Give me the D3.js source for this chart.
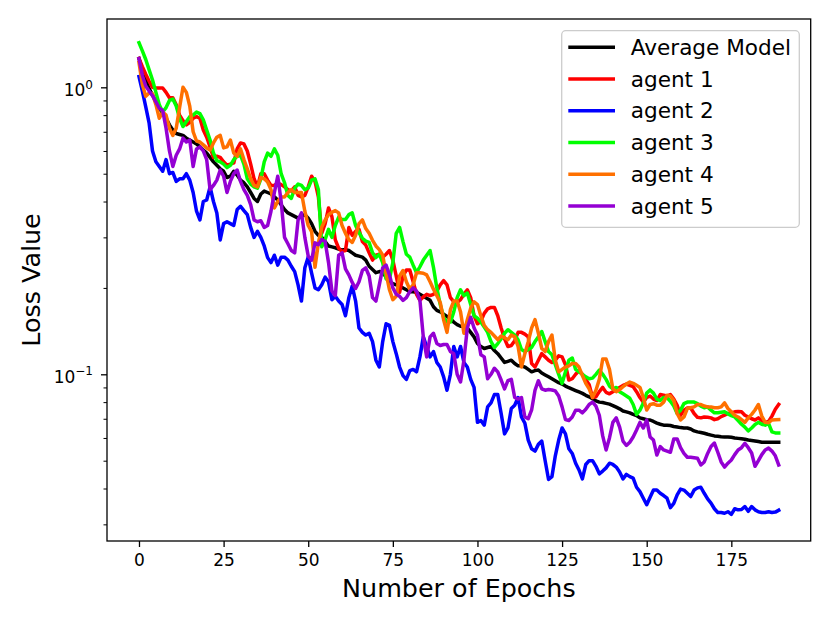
<!DOCTYPE html>
<html>
<head>
<meta charset="utf-8">
<script src="https://cdnjs.cloudflare.com/ajax/libs/d3/7.8.5/d3.min.js"></script>
<style>
  body { margin: 0; background: #ffffff; }
  svg text { font-family: 'DejaVu Sans', sans-serif; fill: #000; }
</style>
</head>
<body>
<div class="chart"></div>
<script>
var epochs = d3.range(0, 190);

var avgModel = [
  1.26, 1.15, 1.06, 0.99, 0.94, 0.89, 0.85, 0.81, 0.78, 0.74,
  0.71, 0.69, 0.685, 0.68, 0.665, 0.655, 0.645, 0.635, 0.62, 0.605,
  0.59, 0.57, 0.55, 0.535, 0.52, 0.51, 0.485, 0.49, 0.51, 0.495,
  0.475, 0.465, 0.45, 0.43, 0.41, 0.40, 0.425, 0.435, 0.43, 0.425,
  0.415, 0.405, 0.39, 0.375, 0.365, 0.36, 0.355, 0.35, 0.355, 0.36,
  0.35, 0.335, 0.315, 0.305, 0.30, 0.29, 0.28, 0.278, 0.276, 0.273,
  0.271, 0.272, 0.27, 0.265, 0.26, 0.258, 0.256, 0.25, 0.238, 0.232,
  0.226, 0.228, 0.227, 0.218, 0.21, 0.207, 0.205, 0.202, 0.20, 0.197,
  0.194, 0.194, 0.193, 0.19, 0.187, 0.184, 0.181, 0.172, 0.167, 0.165,
  0.162, 0.159, 0.156, 0.152, 0.149, 0.147, 0.147, 0.145, 0.14, 0.135,
  0.128, 0.125, 0.123, 0.124, 0.125, 0.121, 0.118, 0.114, 0.11, 0.111,
  0.112, 0.109, 0.107, 0.107, 0.106, 0.104, 0.102, 0.103, 0.1035, 0.101,
  0.0995, 0.098, 0.0965, 0.095, 0.0935, 0.0925, 0.091, 0.0898, 0.0888, 0.0878,
  0.0868, 0.0858, 0.0845, 0.0835, 0.0822, 0.0808, 0.08, 0.0797, 0.0792, 0.0787,
  0.0778, 0.0768, 0.0758, 0.0745, 0.074, 0.0734, 0.0725, 0.0718, 0.0705, 0.07,
  0.0695, 0.0693, 0.0685, 0.0676, 0.067, 0.0665, 0.0665, 0.0663, 0.0658, 0.0655,
  0.0652, 0.065, 0.065, 0.0645, 0.0635, 0.063, 0.0627, 0.0623, 0.0618, 0.0614,
  0.061, 0.0608, 0.0606, 0.0605, 0.0605, 0.0603, 0.06, 0.0598, 0.0596, 0.0594,
  0.059, 0.0588, 0.0586, 0.0583, 0.058, 0.058, 0.058, 0.058, 0.058, 0.058
];

var agent1 = [
  1.26, 1.18, 1.11, 1.05, 1.0, 0.995, 0.995, 0.995, 0.96, 0.92,
  0.92, 0.87, 0.80, 0.765, 0.74, 0.755, 0.78, 0.79, 0.78, 0.71,
  0.67, 0.62, 0.57, 0.575, 0.57, 0.55, 0.535, 0.54, 0.545, 0.61,
  0.64, 0.635, 0.60, 0.54, 0.48, 0.45, 0.50, 0.50, 0.475, 0.455,
  0.455, 0.464, 0.458, 0.45, 0.44, 0.435, 0.45, 0.42, 0.415, 0.42,
  0.45, 0.49, 0.47, 0.415, 0.31, 0.335, 0.38, 0.354, 0.294, 0.275,
  0.268, 0.27, 0.325, 0.305, 0.315, 0.32, 0.29, 0.282, 0.265, 0.25,
  0.26, 0.262, 0.256, 0.262, 0.27, 0.25, 0.22, 0.193, 0.22, 0.231,
  0.231, 0.21, 0.19, 0.181, 0.186, 0.19, 0.188, 0.19, 0.195, 0.205,
  0.212, 0.205, 0.185, 0.179, 0.178, 0.182, 0.19, 0.197, 0.185, 0.16,
  0.15, 0.153, 0.163, 0.169, 0.171, 0.171, 0.16, 0.145, 0.133, 0.125,
  0.126, 0.131, 0.14, 0.14, 0.138, 0.135, 0.109, 0.106, 0.112, 0.118,
  0.115, 0.112, 0.11, 0.112, 0.116, 0.115, 0.108, 0.0955, 0.0965, 0.1,
  0.103, 0.1, 0.096, 0.092, 0.083, 0.0835, 0.087, 0.09, 0.0865, 0.0855,
  0.087, 0.088, 0.09, 0.0915, 0.0925, 0.0915, 0.0905, 0.087, 0.083, 0.08,
  0.083, 0.084, 0.082, 0.081, 0.085, 0.0845, 0.084, 0.085, 0.082, 0.078,
  0.072, 0.075, 0.0763, 0.0763, 0.073, 0.0708, 0.0705, 0.071, 0.0708, 0.0705,
  0.0695, 0.07, 0.0712, 0.072, 0.073, 0.0734, 0.074, 0.0742, 0.074, 0.072,
  0.071, 0.07, 0.0693, 0.0705, 0.069, 0.068, 0.0685, 0.0715, 0.0755, 0.0785
];

var agent2 = [
  1.09, 0.97, 0.855, 0.75, 0.6, 0.55, 0.53, 0.51, 0.56, 0.50,
  0.505, 0.47, 0.48, 0.48, 0.50, 0.475, 0.43, 0.37, 0.345, 0.40,
  0.405, 0.45, 0.40, 0.365, 0.294, 0.335, 0.34, 0.335, 0.33, 0.375,
  0.385, 0.372, 0.36, 0.325, 0.30, 0.315, 0.30, 0.28, 0.255, 0.245,
  0.26, 0.24, 0.256, 0.256, 0.25, 0.238, 0.228, 0.205, 0.18, 0.235,
  0.256, 0.225, 0.2, 0.197, 0.205, 0.218, 0.21, 0.182, 0.187, 0.18,
  0.175, 0.16, 0.185, 0.203, 0.18, 0.145, 0.14, 0.137, 0.139, 0.13,
  0.112, 0.106, 0.13, 0.15, 0.148, 0.13, 0.118, 0.106, 0.099, 0.096,
  0.103, 0.104, 0.102, 0.115, 0.135, 0.125, 0.115, 0.12, 0.11, 0.106,
  0.098, 0.088, 0.1, 0.125, 0.115, 0.125, 0.11, 0.106, 0.096, 0.09,
  0.068, 0.069, 0.0665, 0.077, 0.0795, 0.085, 0.085, 0.073, 0.062, 0.065,
  0.076, 0.078, 0.083, 0.071, 0.0676, 0.059, 0.055, 0.054, 0.057, 0.0585,
  0.05, 0.043, 0.044, 0.052, 0.059, 0.065, 0.062, 0.055, 0.053, 0.049,
  0.0464, 0.0432, 0.0485, 0.05, 0.05, 0.0478, 0.045, 0.046, 0.0472, 0.049,
  0.0485, 0.0475, 0.0457, 0.0432, 0.0448, 0.044, 0.0435, 0.0404, 0.039, 0.037,
  0.0351, 0.0373, 0.0395, 0.0395, 0.0385, 0.0378, 0.037, 0.0343, 0.0355, 0.038,
  0.0398, 0.0395, 0.0385, 0.0375, 0.0395, 0.0402, 0.0404, 0.0385, 0.0368, 0.0356,
  0.034, 0.033, 0.033, 0.0328, 0.0332, 0.0325, 0.034, 0.0337, 0.0338, 0.0346,
  0.0333, 0.0346, 0.0337, 0.0332, 0.033, 0.033, 0.0332, 0.033, 0.0331, 0.0336
];

var agent3 = [
  1.43, 1.34, 1.25, 1.15, 1.06, 0.96, 0.87, 0.82, 0.85, 0.9,
  0.91, 0.86, 0.78, 0.73, 0.76, 0.79, 0.80, 0.82, 0.81, 0.77,
  0.71, 0.655, 0.59, 0.555, 0.55, 0.54, 0.525, 0.535, 0.56, 0.575,
  0.58, 0.54, 0.48, 0.46, 0.45, 0.445, 0.48, 0.55, 0.59, 0.575,
  0.61, 0.58, 0.50, 0.465, 0.42, 0.41, 0.445, 0.46, 0.455, 0.44,
  0.446, 0.475, 0.48, 0.44, 0.278, 0.295, 0.32, 0.30, 0.33, 0.353,
  0.346, 0.346, 0.36, 0.365, 0.33, 0.312, 0.298, 0.291, 0.288, 0.265,
  0.255, 0.262, 0.245, 0.215, 0.215, 0.245, 0.31, 0.325, 0.29, 0.262,
  0.256, 0.24, 0.226, 0.237, 0.25, 0.26, 0.27, 0.236, 0.2, 0.175,
  0.158, 0.152, 0.152, 0.165, 0.185, 0.197, 0.188, 0.192, 0.175, 0.16,
  0.157, 0.152, 0.146, 0.14, 0.13, 0.124, 0.128, 0.133, 0.139, 0.143,
  0.14, 0.137, 0.132, 0.122, 0.12, 0.122, 0.124, 0.13, 0.135, 0.141,
  0.13, 0.12, 0.117, 0.108, 0.1, 0.093, 0.102, 0.112, 0.114, 0.104,
  0.102, 0.1, 0.098, 0.0965, 0.097, 0.1, 0.1035, 0.1, 0.096, 0.091,
  0.089, 0.09, 0.087, 0.0855, 0.084, 0.0825, 0.0785, 0.0725, 0.075, 0.0795,
  0.086, 0.0882, 0.086, 0.082, 0.081, 0.083, 0.083, 0.0805, 0.0775, 0.073,
  0.075, 0.079, 0.08, 0.08, 0.08, 0.079, 0.0775, 0.0765, 0.077, 0.075,
  0.0734, 0.0734, 0.0737, 0.074, 0.0728, 0.0718, 0.071, 0.069, 0.067, 0.0655,
  0.0635, 0.065, 0.0668, 0.068, 0.067, 0.0665, 0.0675, 0.063, 0.0625, 0.0625
];

var agent4 = [
  1.22, 1.02, 0.93, 0.955, 0.95, 0.87, 0.78, 0.82, 0.80, 0.72,
  0.68, 0.72, 0.85, 1.0, 0.96, 0.86, 0.7, 0.65, 0.645, 0.63,
  0.615, 0.605, 0.64, 0.67, 0.68, 0.615, 0.62, 0.655, 0.59, 0.575,
  0.61, 0.56, 0.52, 0.48, 0.455, 0.45, 0.485, 0.48, 0.468, 0.44,
  0.38, 0.40, 0.415, 0.415, 0.43, 0.44, 0.43, 0.43, 0.43, 0.37,
  0.33, 0.314, 0.236, 0.287, 0.326, 0.345, 0.36, 0.367, 0.372, 0.365,
  0.33, 0.31, 0.295, 0.288, 0.305, 0.335, 0.345, 0.322, 0.31, 0.293,
  0.28, 0.272, 0.26, 0.225, 0.197, 0.182, 0.187, 0.22, 0.23, 0.21,
  0.198, 0.205, 0.226, 0.226, 0.225, 0.222, 0.21, 0.198, 0.188, 0.178,
  0.155, 0.14, 0.168, 0.18, 0.18, 0.165, 0.139, 0.155, 0.17, 0.179,
  0.175, 0.16, 0.148, 0.143, 0.14, 0.136, 0.132, 0.136, 0.134, 0.132,
  0.137, 0.135, 0.125, 0.106, 0.118, 0.13, 0.145, 0.155, 0.139, 0.123,
  0.12, 0.13, 0.137, 0.112, 0.102, 0.104, 0.106, 0.107, 0.109, 0.109,
  0.106, 0.099, 0.093, 0.089, 0.083, 0.088, 0.096, 0.113, 0.113, 0.104,
  0.089, 0.087, 0.0885, 0.0905, 0.0925, 0.094, 0.093, 0.0915, 0.09, 0.083,
  0.0751, 0.0785, 0.079, 0.078, 0.078, 0.08, 0.0845, 0.084, 0.081, 0.073,
  0.0693, 0.071, 0.076, 0.0765, 0.077, 0.0785, 0.0785, 0.0775, 0.077, 0.077,
  0.0765, 0.0765, 0.077, 0.0795, 0.076, 0.074, 0.072, 0.071, 0.0695, 0.068,
  0.0705, 0.0725, 0.0751, 0.0785, 0.0715, 0.068, 0.0678, 0.0693, 0.0694, 0.0695
];

var agent5 = [
  1.26, 1.1, 1.01, 0.97, 0.935, 0.89, 0.845, 0.83, 0.72, 0.6,
  0.53, 0.58, 0.61, 0.665, 0.645, 0.655, 0.53, 0.61, 0.62, 0.6,
  0.56, 0.44, 0.455, 0.475, 0.515, 0.49, 0.43, 0.47, 0.5, 0.515,
  0.47, 0.44, 0.42, 0.39, 0.345, 0.34, 0.343, 0.325, 0.33, 0.37,
  0.43, 0.49, 0.40, 0.30, 0.285, 0.27, 0.265, 0.345, 0.365, 0.3,
  0.258, 0.25, 0.287, 0.283, 0.295, 0.29, 0.245, 0.195, 0.188, 0.26,
  0.265, 0.233, 0.222, 0.209, 0.199, 0.21, 0.23, 0.235, 0.22, 0.185,
  0.18, 0.205, 0.235, 0.24, 0.222, 0.2, 0.19, 0.187, 0.181, 0.185,
  0.194, 0.2, 0.195, 0.181, 0.135, 0.115, 0.135, 0.139, 0.128, 0.126,
  0.127, 0.127, 0.12, 0.118, 0.1, 0.094, 0.112, 0.145, 0.158, 0.145,
  0.137, 0.117, 0.115, 0.0965, 0.1, 0.105, 0.102, 0.0955, 0.089, 0.095,
  0.096, 0.083, 0.082, 0.083, 0.071, 0.07, 0.0751, 0.088, 0.095, 0.089,
  0.088, 0.0885, 0.0882, 0.0875, 0.084, 0.077, 0.0695, 0.069, 0.071, 0.075,
  0.075, 0.0734, 0.0755, 0.0785, 0.08, 0.0775, 0.072, 0.061, 0.0545, 0.06,
  0.068, 0.0705, 0.0655, 0.0585, 0.0565, 0.058, 0.0605, 0.064, 0.068, 0.065,
  0.0693, 0.0605, 0.059, 0.0523, 0.056, 0.0545, 0.054, 0.0535, 0.0595, 0.0595,
  0.0555, 0.053, 0.0514, 0.0514, 0.0512, 0.051, 0.0483, 0.0495, 0.053, 0.056,
  0.0576, 0.0535, 0.0495, 0.0475, 0.049, 0.0503, 0.0525, 0.0545, 0.0555, 0.0575,
  0.0555, 0.0532, 0.0478, 0.05, 0.0525, 0.0545, 0.0553, 0.054, 0.052, 0.0483
];

var seriesNames = ['Average Model', 'agent 1', 'agent 2', 'agent 3', 'agent 4', 'agent 5'];
var seriesValues = [avgModel, agent1, agent2, agent3, agent4, agent5];
var seriesColors = ['#000000', '#ff0000', '#0000ff', '#00ff00', '#ff7000', '#9400d3'];

var xTicks = [0, 25, 50, 75, 100, 125, 150, 175];
var yMajorTicks = [0.1, 1];
var yMajorExp = ['\u22121', '0'];
var yMinorTicks = [0.03, 0.04, 0.05, 0.06, 0.07, 0.08, 0.09, 0.2, 0.3, 0.4, 0.5, 0.6, 0.7, 0.8, 0.9];

var width = 830,
  height = 623,
  plotLeft = 107,
  plotRight = 810.7,
  plotTop = 19,
  plotBottom = 541;

var svgEl = d3
  .select('.chart')
  .append('svg')
  .attr('width', width)
  .attr('height', height);

var xScale = d3.scaleLinear().domain([-9.45, 198.45]).range([plotLeft, plotRight]);
var yScale = d3.scaleLog().domain([0.02625, 1.73]).range([plotBottom, plotTop]);

var line = d3
  .line()
  .x((d, i) => xScale(epochs[i]))
  .y((d) => yScale(d));

// lines in legend order, later agents on top
svgEl
  .append('g')
  .selectAll('path')
  .data(seriesValues)
  .enter()
  .append('path')
  .attr('d', (d) => line(d))
  .attr('fill', 'none')
  .attr('stroke', (d, i) => seriesColors[i])
  .attr('stroke-width', 3.5)
  .attr('stroke-linejoin', 'round')
  .attr('stroke-linecap', 'square');

// frame
svgEl
  .append('rect')
  .attr('x', plotLeft)
  .attr('y', plotTop)
  .attr('width', plotRight - plotLeft)
  .attr('height', plotBottom - plotTop)
  .attr('fill', 'none')
  .attr('stroke', '#000')
  .attr('stroke-width', 1.3);

var xAxis = d3
  .axisBottom(xScale)
  .tickValues(xTicks)
  .tickSize(6)
  .tickPadding(7)
  .tickFormat(d3.format('d'));

var gx = svgEl
  .append('g')
  .attr('transform', 'translate(0,' + plotBottom + ')')
  .call(xAxis);
gx.select('.domain').remove();
gx.selectAll('line').attr('stroke-width', 1.3);
gx.selectAll('text')
  .style('font-size', '17px')
  .style('font-family', "'DejaVu Sans', sans-serif");

var yAxis = d3.axisLeft(yScale).tickValues(yMajorTicks).tickSize(6).tickFormat('');
var gy = svgEl
  .append('g')
  .attr('transform', 'translate(' + plotLeft + ',0)')
  .call(yAxis);
gy.select('.domain').remove();
gy.selectAll('line').attr('stroke-width', 1.3);

var yMinorAxis = d3.axisLeft(yScale).tickValues(yMinorTicks).tickSize(3.5).tickFormat('');
var gyMinor = svgEl
  .append('g')
  .attr('transform', 'translate(' + plotLeft + ',0)')
  .call(yMinorAxis);
gyMinor.select('.domain').remove();
gyMinor.selectAll('line').attr('stroke-width', 1);

// 10^n labels
var yLabels = svgEl
  .append('g')
  .selectAll('text')
  .data(yMajorTicks)
  .enter()
  .append('text')
  .attr('x', plotLeft - 14)
  .attr('y', (d) => yScale(d) + 8.5)
  .attr('text-anchor', 'end');
yLabels.append('tspan').style('font-size', '17px').text('10');
yLabels
  .append('tspan')
  .attr('dy', -7.3)
  .style('font-size', '12px')
  .text((d, i) => yMajorExp[i]);

svgEl
  .append('text')
  .attr('x', (plotLeft + plotRight) / 2)
  .attr('y', 597)
  .attr('text-anchor', 'middle')
  .style('font-size', '25.4px')
  .text('Number of Epochs');

svgEl
  .append('text')
  .attr('transform', 'translate(40,' + (plotTop + plotBottom) / 2 + ') rotate(-90)')
  .attr('text-anchor', 'middle')
  .style('font-size', '25.4px')
  .text('Loss Value');

// legend
var legend = svgEl.append('g');
legend
  .append('rect')
  .attr('x', 561.7)
  .attr('y', 30.7)
  .attr('width', 237.6)
  .attr('height', 196.6)
  .attr('rx', 4)
  .attr('fill', '#fff')
  .attr('fill-opacity', 0.8)
  .attr('stroke', '#cccccc')
  .attr('stroke-width', 1.3);

var rows = legend
  .selectAll('g.row')
  .data(seriesNames)
  .enter()
  .append('g')
  .attr('class', 'row')
  .attr('transform', (d, i) => 'translate(0,' + (47.3 + i * 31.75) + ')');

rows
  .append('line')
  .attr('x1', 568.3)
  .attr('x2', 615)
  .attr('stroke', (d, i) => seriesColors[i])
  .attr('stroke-width', 3.5);

rows
  .append('text')
  .attr('x', 630.7)
  .attr('y', 7.5)
  .style('font-size', '21.6px')
  .text((d) => d);
</script>
</body>
</html>
